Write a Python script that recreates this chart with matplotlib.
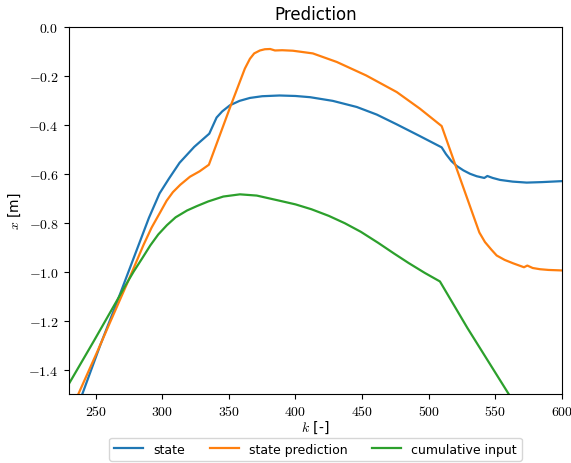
import matplotlib
matplotlib.use("Agg")
import matplotlib.pyplot as plt
from matplotlib.ticker import FuncFormatter

plt.rcParams["mathtext.fontset"] = "cm"

# values (k, x)
state_k = [238, 253.5, 266, 278.5, 290, 298, 305, 313, 324, 335.3, 340.8, 345, 350.8,
           358, 365.8, 375, 388, 400, 411, 428, 446, 461, 476, 493, 509.7, 513, 517,
           521, 526, 531, 536, 541.7, 544, 548, 553.5, 563, 573.5, 585, 600]
state_x = [-1.53, -1.30, -1.125, -0.945, -0.78, -0.68, -0.62, -0.555, -0.49, -0.436,
           -0.37, -0.345, -0.32, -0.302, -0.29, -0.283, -0.280, -0.282, -0.287, -0.302,
           -0.327, -0.358, -0.398, -0.445, -0.492, -0.52, -0.548, -0.568, -0.586, -0.6,
           -0.61, -0.617, -0.609, -0.617, -0.625, -0.632, -0.636, -0.634, -0.63]

pred_k = [235, 251, 261, 273.5, 286, 292, 298.5, 303.3, 308, 313.5, 320.8, 328, 335,
          350.8, 362, 365.8, 369, 373.3, 377, 381, 384.6, 390, 398, 413, 431, 453, 476,
          493.4, 509.7, 518.4, 521, 533.4, 538, 542.2, 547, 551, 557, 563.4, 571.5, 574,
          578, 583.5, 590, 600]
pred_x = [-1.525, -1.33, -1.205, -1.05, -0.89, -0.82, -0.757, -0.71, -0.675, -0.645,
          -0.612, -0.59, -0.563, -0.33, -0.17, -0.13, -0.108, -0.096, -0.091, -0.09,
          -0.096, -0.095, -0.097, -0.108, -0.143, -0.198, -0.266, -0.334, -0.405, -0.539,
          -0.58, -0.77, -0.84, -0.879, -0.91, -0.934, -0.952, -0.966, -0.982, -0.975,
          -0.985, -0.99, -0.993, -0.995]

cum_k = [230, 248.5, 266, 272, 278.5, 285, 291, 297, 303.5, 310, 318.6, 326, 334.5,
         345.8, 358.3, 370.9, 388, 400, 412, 425, 437, 449, 462, 474, 485, 497, 508.4,
         529, 560, 566]
cum_x = [-1.458, -1.285, -1.118, -1.06, -1.0, -0.945, -0.893, -0.848, -0.81, -0.778,
         -0.75, -0.732, -0.713, -0.693, -0.684, -0.689, -0.71, -0.725, -0.745, -0.772,
         -0.802, -0.837, -0.882, -0.926, -0.965, -1.005, -1.04, -1.23, -1.50, -1.555]

fig = plt.figure(figsize=(5.71, 4.64), dpi=100)
ax = fig.add_axes([0.1208, 0.1487, 0.8634, 0.791])
ax.plot(state_k, state_x, label="state", linewidth=1.6)
ax.plot(pred_k, pred_x, label="state prediction", linewidth=1.6)
ax.plot(cum_k, cum_x, label="cumulative input", linewidth=1.6)

ax.set_xlim(230, 600)
ax.set_ylim(-1.5, 0.0)
ax.set_xticks(range(250, 601, 50))
ax.set_yticks([-1.4, -1.2, -1.0, -0.8, -0.6, -0.4, -0.2, 0.0])
ax.xaxis.set_major_formatter(FuncFormatter(lambda v, p: f"${v:.0f}$"))
ax.yaxis.set_major_formatter(FuncFormatter(lambda v, p: f"${v:.1f}$"))
ax.tick_params(labelsize=10, pad=4)

ax.set_title("Prediction", fontsize=12)
ax.set_xlabel(r"$k$ [-]", fontsize=10, labelpad=0)
ax.set_ylabel(r"$x$ [m]", fontsize=10)

ax.legend(loc="upper center", bbox_to_anchor=(0.5, -0.102), ncol=3, fontsize=9,
          handlelength=2.3, columnspacing=2.0, frameon=True)

fig.savefig("out.png", dpi=100)
plt.close(fig)
